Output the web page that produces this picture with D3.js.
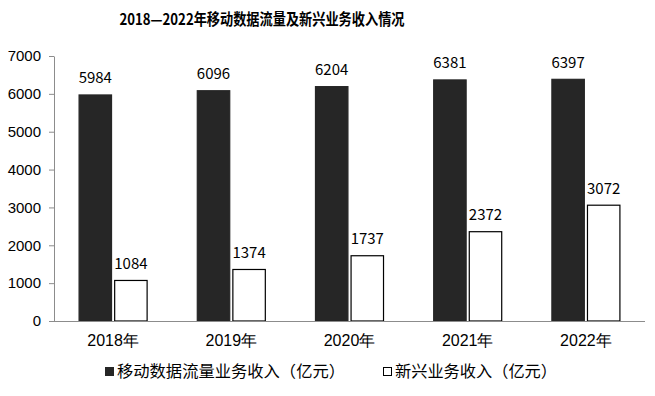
<!DOCTYPE html>
<html>
<head>
<meta charset="utf-8">
<script src="https://cdn.jsdelivr.net/npm/d3@7"></script>
<style>
  body { margin: 0; background: #fff; }
  svg { display: block; font-family: "Noto Sans CJK SC", "Noto Sans", sans-serif; }
</style>
</head>
<body>
<svg id="chart" width="655" height="396"></svg>
<script>
const years = ["2018年", "2019年", "2020年", "2021年", "2022年"];
const seriesNames = ["移动数据流量业务收入（亿元）", "新兴业务收入（亿元）"];
const dataTraffic = [5984, 6096, 6204, 6381, 6397];
const newBusiness = [1084, 1374, 1737, 2372, 3072];
const yTicks = [0, 1000, 2000, 3000, 4000, 5000, 6000, 7000];
const title = "2018—2022年移动数据流量及新兴业务收入情况";

const colors = ["#262626", "#ffffff"];
const svg = d3.select("#chart");

const x0 = d3.scaleBand().domain(years).range([54, 645]).paddingInner(0.416).paddingOuter(0.208);
const x1 = d3.scaleBand().domain([0, 1]).range([0, x0.bandwidth()]).paddingInner(0.06);
const y = d3.scaleLinear().domain([0, 7000]).range([321, 56]);

// title
svg.append("text")
  .attr("x", 262).attr("y", 25)
  .attr("text-anchor", "middle")
  .attr("font-size", 15.5).attr("font-weight", "bold")
  .attr("textLength", 285).attr("lengthAdjust", "spacingAndGlyphs")
  .text(title);

// y axis
const yAxis = svg.append("g")
  .attr("transform", "translate(54,0)")
  .call(d3.axisLeft(y).tickValues(yTicks).tickFormat(d3.format("d"))
    .tickSize(5).tickSizeOuter(0).tickPadding(8));
yAxis.select(".domain").attr("stroke", "#8c8c8c");
yAxis.selectAll(".tick line").attr("stroke", "#8c8c8c");
yAxis.selectAll("text").attr("font-size", 15).attr("fill", "#000").attr("font-family", "inherit");

// bars
const groups = svg.append("g").selectAll("g")
  .data(years)
  .join("g")
  .attr("transform", d => `translate(${x0(d)},0)`);

groups.each(function(d, i) {
  const vals = [dataTraffic[i], newBusiness[i]];
  const g = d3.select(this);
  g.selectAll("rect")
    .data(vals)
    .join("rect")
    .attr("x", (v, j) => x1(j) + 0.5)
    .attr("y", v => y(v) + 0.5)
    .attr("width", x1.bandwidth() - 1)
    .attr("height", v => y(0) - y(v) - 0.5)
    .attr("fill", (v, j) => colors[j])
    .attr("stroke", (v, j) => j === 0 ? "#262626" : "#000")
    .attr("stroke-width", 1.2);
  g.selectAll("text.val")
    .data(vals)
    .join("text")
    .attr("class", "val")
    .attr("x", (v, j) => x1(j) + x1.bandwidth() / 2)
    .attr("y", v => y(v) - 11)
    .attr("text-anchor", "middle")
    .attr("font-size", 15)
    .text(v => v);
});

// x axis
const xAxis = svg.append("g")
  .attr("transform", "translate(0,321)")
  .call(d3.axisBottom(x0).tickSize(0).tickSizeOuter(0).tickPadding(14));
xAxis.select(".domain").attr("stroke", "#8c8c8c").attr("d", "M54,0.5H645");
xAxis.selectAll("text").attr("font-size", 16).attr("fill", "#000").attr("font-family", "inherit");

// legend
const legendX = [105, 383];
const legendLen = [228, 162];
const leg = svg.append("g").selectAll("g")
  .data(seriesNames)
  .join("g")
  .attr("transform", (d, i) => `translate(${legendX[i]},367)`);
leg.append("rect")
  .attr("x", 0.5).attr("y", 0.5)
  .attr("width", 8).attr("height", 8)
  .attr("fill", (d, i) => colors[i])
  .attr("stroke", (d, i) => i === 0 ? "#262626" : "#000");
leg.append("text")
  .attr("x", 12).attr("y", 10)
  .attr("font-size", 16)
  .attr("textLength", (d, i) => legendLen[i])
  .attr("lengthAdjust", "spacingAndGlyphs")
  .text(d => d);
</script>
</body>
</html>
